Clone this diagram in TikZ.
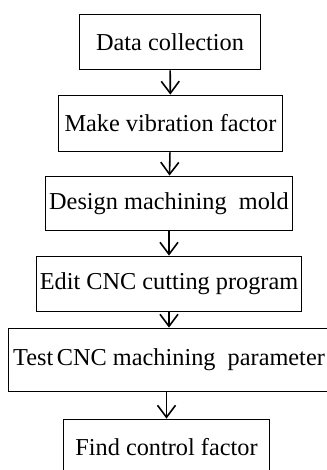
\documentclass[tikz,border=0pt]{standalone}
\usepackage{fontspec}
\setmainfont{Liberation Serif}
\usepackage{tikz}
\usetikzlibrary{arrows.meta,positioning}

\begin{document}
\begin{tikzpicture}[
        x=1pt, y=1pt,
        stepbox/.style={draw=black, fill=white, line width=1.8pt, inner sep=0pt, align=center, font=\fontsize{24.3}{29}\selectfont},
        flow/.style={line width=1.6pt, draw=black, -{Straight Barb[length=12pt,width=18pt,line width=1.6pt]}}
    ]
        \useasboundingbox (0,0) rectangle (326,-470);

        % Data collection
        \node[stepbox, minimum width=181pt, minimum height=55pt] (stData) at (170,-42) {Data collection};

        % Make vibration factor
        \node[stepbox, minimum width=224pt, minimum height=56pt] (stVib) at (170.5,-123.5) {Make vibration factor};

        % Design machining mold
        \node[stepbox, minimum width=247pt, minimum height=54pt] (stMold) at (169,-203.5) {Design machining\ \ mold};

        % Edit CNC cutting program
        \node[stepbox, minimum width=265pt, minimum height=55pt] (stProg) at (169,-284) {Edit CNC cutting program};

        % Test CNC machining parameter
        \node[stepbox, minimum width=321pt, minimum height=63pt] (stTest) at (169,-360) {Test\hspace{0.15em}CNC machining\ \ parameter};

        % Find control factor
        \node[stepbox, minimum width=206pt, minimum height=55pt] (stFind) at (166.5,-447) {Find control factor};

        % Flow
        \draw[flow] (stData) -- (stVib);
        \draw[flow] (stVib) -- (stMold);
        \draw[flow] (stMold) -- (stProg);
        \draw[flow] (stProg) -- (stTest);
        \draw[flow] (stTest.south -| stFind) -- (stFind);
    \end{tikzpicture}
\end{document}
